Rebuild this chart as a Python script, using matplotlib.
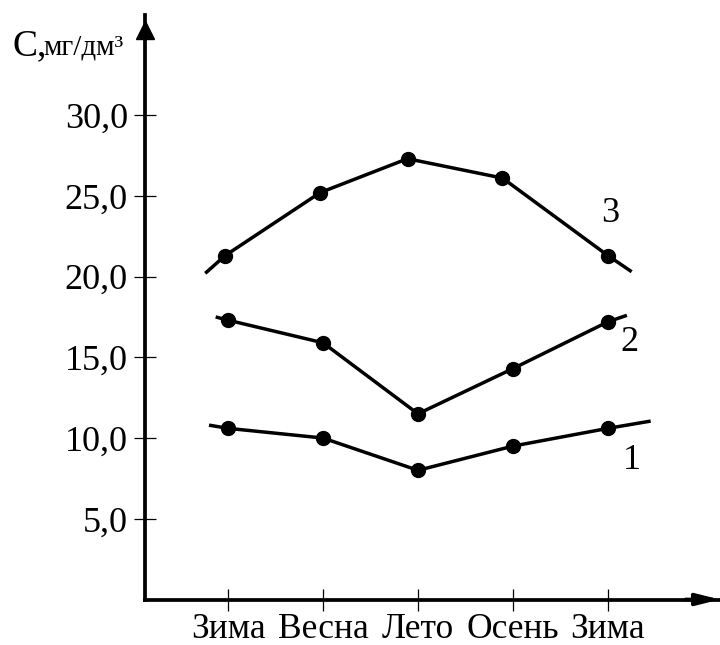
import numpy as np
import matplotlib.pyplot as plt

plt.rcParams['font.family'] = ['Liberation Serif', 'DejaVu Serif']

seasons = ['Зима', 'Весна', 'Лето', 'Осень', 'Зима']
tick_pos = [1, 2, 3, 4, 5]
y_ticks = [5.0, 10.0, 15.0, 20.0, 25.0, 30.0]
y_labels = ['5,0', '10,0', '15,0', '20,0', '25,0', '30,0']

# точки измерений (x - позиция сезона, y - концентрация)
x1 = [1.0, 2.0, 3.0, 4.0, 5.0]
c1 = [10.6, 10.0, 8.0, 9.5, 10.6]
x2 = [1.0, 2.0, 3.0, 4.0, 5.0]
c2 = [17.3, 15.9, 11.5, 14.3, 17.2]
x3 = [0.97, 1.97, 2.89, 3.89, 5.0]
c3 = [21.3, 25.2, 27.3, 26.1, 21.3]

# концы линий за крайними точками
ends1 = ([0.8, 5.45], [10.8, 11.05])
ends2 = ([0.87, 5.2], [17.5, 17.6])
ends3 = ([0.76, 5.25], [20.2, 20.3])

curve_labels = ['1', '2', '3']
label_x = [5.25, 5.23, 5.02]
label_y = [8.6, 15.9, 23.9]

fig = plt.figure(figsize=(7.2, 6.45), dpi=100)
ax = fig.add_axes([145/720, 45.5/645, 575/720, 584.5/645])

for xs, cs, ends in [(x1, c1, ends1), (x2, c2, ends2), (x3, c3, ends3)]:
    px = [ends[0][0]] + xs + [ends[0][1]]
    py = [ends[1][0]] + cs + [ends[1][1]]
    ax.plot(px, py, color='black', linewidth=2.5, solid_capstyle='butt')
    ax.plot(xs, cs, 'o', color='black', markersize=10)

for t, lx, ly in zip(curve_labels, label_x, label_y):
    ax.text(lx, ly, t, fontsize=26, ha='center', va='center')

ax.set_xlim(0.126, 6.18)
ax.set_ylim(0, 36.2)
ax.set_xticks(tick_pos)
ax.set_xticklabels(seasons, fontsize=25.5)
ax.set_yticks(y_ticks)
ax.set_yticklabels(y_labels, fontsize=26)
ax.tick_params(direction='inout', length=16.5, width=0.9)
ax.tick_params(axis='x', pad=1.5)
ax.tick_params(axis='y', pad=4)

for s in ['top', 'right']:
    ax.spines[s].set_visible(False)
for s in ['left', 'bottom']:
    ax.spines[s].set_linewidth(2.7)

# стрелки осей
ax.annotate('', xy=(1.0, 0), xytext=(0.94, 0), xycoords='axes fraction',
            arrowprops=dict(arrowstyle='-|>,head_length=1.4,head_width=0.35',
                            color='black', lw=2.7, shrinkA=0, shrinkB=0),
            annotation_clip=False)
ax.plot(0, 0.975, '^', color='black', markersize=13, transform=ax.transAxes, clip_on=False)

fig.text(12/720, 1 - 55/645, 'C,', fontsize=27, ha='left', va='baseline')
fig.text(43/720, 1 - 55/645, 'мг/дм³', fontsize=21, ha='left', va='baseline')

fig.savefig('out.png', dpi=100)
